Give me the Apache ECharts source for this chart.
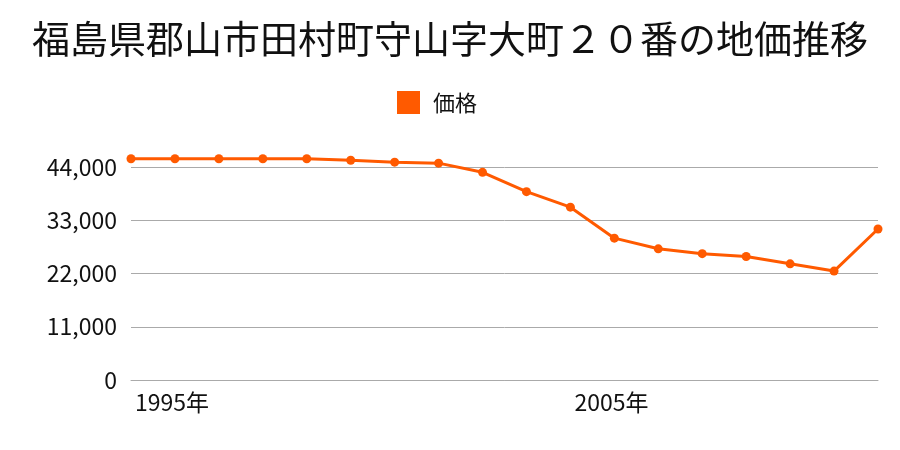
<!DOCTYPE html>
<html><head><meta charset="utf-8">
<script src="https://cdn.jsdelivr.net/npm/echarts@6/dist/echarts.min.js"></script>
<style>html,body{margin:0;padding:0;background:#fff}#c{width:900px;height:450px}</style>
</head><body><div id="c"></div>
<script>
const titleText = '福島県郡山市田村町守山字大町２０番の地価推移';
const seriesName = '価格';
const years = ['1995年','1996年','1997年','1998年','1999年','2000年','2001年','2002年','2003年','2004年','2005年','2006年','2007年','2008年','2009年','2010年','2011年','2012年'];
const prices = [45700,45700,45700,45700,45700,45400,45000,44800,42900,38900,35700,29300,27100,26100,25500,24000,22500,31200];
const yTicks = [0,11000,22000,33000,44000];

const font = '"Noto Sans CJK JP", "Noto Sans", sans-serif';
const chart = echarts.init(document.getElementById('c'));
chart.setOption({
  animation: false,
  backgroundColor: '#fff',
  title: {text: titleText, left: 'center', top: 15,
    textStyle: {fontFamily: font, fontSize: 38, fontWeight: 'normal', color: '#111'}},
  legend: {data: [seriesName], top: 86, left: 392, itemWidth: 23, itemHeight: 23, icon: 'rect',
    textStyle: {fontFamily: font, fontSize: 22, color: '#111', padding: [0, 0, 0, 8]}},
  grid: {left: 131, right: 22, top: 167, bottom: 70},
  xAxis: {type: 'category', data: years, boundaryGap: false,
    axisLine: {show: true, lineStyle: {color: '#aaa'}}, axisTick: {show: false},
    axisLabel: {interval: 9, align: 'left', margin: 11, padding: [0, 0, 0, 4], fontFamily: font, fontSize: 23, color: '#111'}},
  yAxis: {type: 'value', min: 0, max: yTicks[yTicks.length-1], interval: yTicks[1]-yTicks[0],
    axisLine: {show: false}, axisTick: {show: false},
    splitLine: {lineStyle: {color: '#aaa', width: 1}},
    axisLabel: {margin: 14, fontFamily: font, fontSize: 23, color: '#111',
      formatter: v => v.toLocaleString('en-US')}},
  series: [{name: seriesName, type: 'line', data: prices, clip: false,
    symbol: 'circle', symbolSize: 9,
    itemStyle: {color: '#ff5a00'}, lineStyle: {color: '#ff5a00', width: 3}}]
});
</script></body></html>
